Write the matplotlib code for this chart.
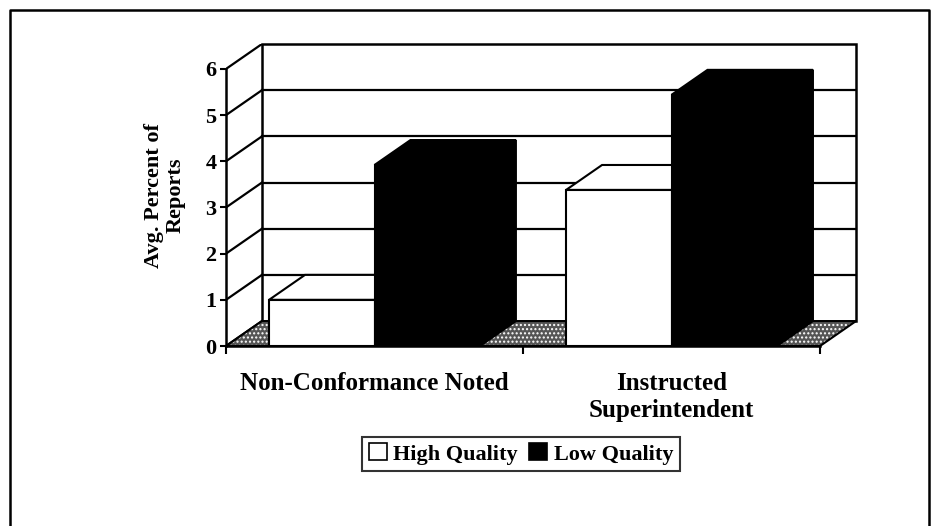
import numpy as np
import matplotlib.pyplot as plt
from matplotlib.patches import Polygon, Patch, Rectangle
from matplotlib.lines import Line2D

plt.rcParams.update({
    'font.family': 'Liberation Serif',
    'font.weight': 'bold',
    'axes.labelweight': 'bold',
    'font.size': 16,
})

# data
categories = ['Non-Conformance Noted', 'Instructed\nSuperintendent']
series = ['High Quality', 'Low Quality']
high_quality = [1.0, 3.38]
low_quality = [3.92, 5.44]
y_ticks = [0, 1, 2, 3, 4, 5, 6]

face_colors = ['white', 'black']
DX, DY = 0.121, 0.54      # depth offset of the pseudo 3D box
bar_w = 0.355

fig = plt.figure(figsize=(9.39, 5.26), dpi=100)
ax = fig.add_axes([226 / 939, 1 - 346 / 526, 630 / 939, 302 / 526])
ax.set_xlim(-0.5, 1.5 + DX)
ax.set_ylim(0, 6 + DY)
ax.patch.set_visible(False)

x = np.arange(len(categories))
x_lo, x_hi = -0.5, len(categories) - 0.5
y_top = y_ticks[-1]

# floor (dotted)
floor = [(x_lo, 0), (x_hi, 0), (x_hi + DX, DY), (x_lo + DX, DY)]
ax.add_patch(Polygon(floor, closed=True, facecolor='#555555', edgecolor='none', zorder=1))
ax.add_patch(Polygon(floor, closed=True, facecolor='none', edgecolor='white', hatch='....',
                     linewidth=0, zorder=1.1))
ax.add_patch(Polygon(floor, closed=True, facecolor='none', edgecolor='black', linewidth=1.5,
                     zorder=1.2, clip_on=False))

# back wall + gridlines
ax.add_patch(Rectangle((x_lo + DX, DY), x_hi - x_lo, y_top, facecolor='white',
                       edgecolor='black', linewidth=1.8, zorder=0.5, clip_on=False))
for t in y_ticks[1:-1]:
    ax.plot([x_lo + DX, x_hi + DX], [t + DY, t + DY], color='black', lw=1.6, zorder=0.6)
# side wall
for t in y_ticks:
    ax.plot([x_lo, x_lo + DX], [t, t + DY], color='black', lw=1.6, zorder=0.6)


def bar3d(x0, h, color, z):
    x1 = x0 + bar_w
    ax.bar(x0, h, width=bar_w, align='edge', color=color, edgecolor='black', linewidth=1.5, zorder=z)
    top = [(x0, h), (x1, h), (x1 + DX, h + DY), (x0 + DX, h + DY)]
    side = [(x1, 0), (x1, h), (x1 + DX, h + DY), (x1 + DX, DY)]
    ax.add_patch(Polygon(top, closed=True, facecolor=color, edgecolor='black', linewidth=1.5, zorder=z - 0.1))
    ax.add_patch(Polygon(side, closed=True, facecolor=color, edgecolor='black', linewidth=1.5, zorder=z - 0.1))


z = 3
for i in range(len(categories)):
    for vals, col in zip([high_quality, low_quality], face_colors):
        off = -bar_w if col == 'white' else 0
        bar3d(x[i] + off, vals[i], col, z)
        z += 1

# axes
for s in ['top', 'right']:
    ax.spines[s].set_visible(False)
ax.spines['left'].set_bounds(0, y_top)
ax.spines['bottom'].set_bounds(x_lo, x_hi)
ax.spines['left'].set_linewidth(1.8)
ax.spines['bottom'].set_linewidth(1.8)
ax.spines['left'].set_zorder(20)
ax.spines['bottom'].set_zorder(20)
ax.set_yticks(y_ticks)
ax.tick_params(axis='y', length=4, width=1.5, pad=3, labelsize=16)
ax.set_xticks([x_lo, 0.5, x_hi])
ax.set_xticklabels([])
ax.tick_params(axis='x', which='major', length=6, width=1.5)
ax.set_xticks(x, minor=True)
ax.set_xticklabels(categories, minor=True, fontsize=18, linespacing=1.2)
ax.tick_params(axis='x', which='minor', length=0, pad=19)

ax.set_ylabel('Avg. Percent of\nReports', fontsize=16, labelpad=14, linespacing=1.1)

handles = [Patch(facecolor=c, edgecolor='black', linewidth=1.2) for c in face_colors]
leg = fig.legend(handles, series, loc='center', bbox_to_anchor=(521 / 939, 1 - 454 / 526),
                 ncol=2, frameon=True, fancybox=False, edgecolor='black', fontsize=16,
                 handlelength=0.8, handleheight=0.8, handletextpad=0.3, columnspacing=0.5,
                 borderpad=0.3)
leg.get_frame().set_linewidth(1.5)

# outer frame
fig.add_artist(Line2D([10 / 939, 10 / 939, 929 / 939, 929 / 939],
                      [0, 1 - 10 / 526, 1 - 10 / 526, 0], transform=fig.transFigure,
                      color='black', lw=1.8))

fig.savefig('out.png', dpi=100)
